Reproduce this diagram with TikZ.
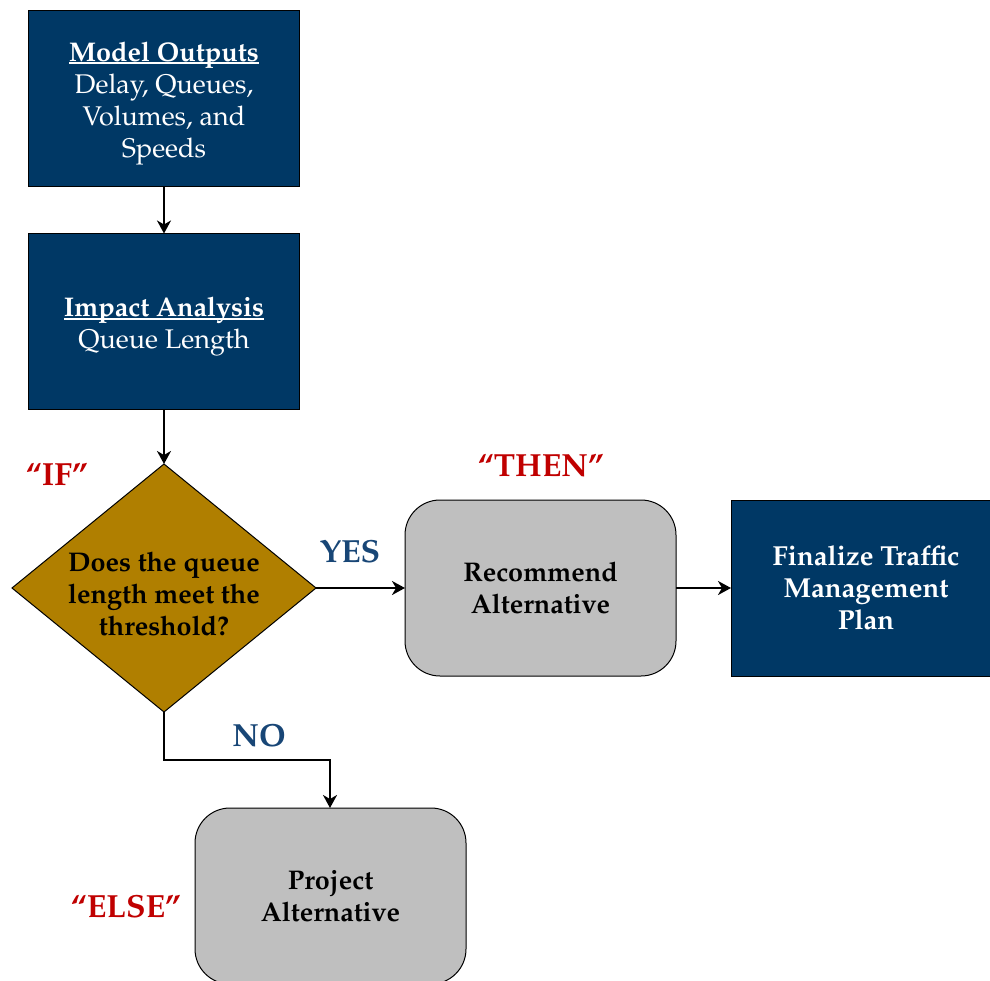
\documentclass[tikz,border=0pt]{standalone}
\usepackage[T1]{fontenc}
\usepackage{mathpazo}
\usetikzlibrary{shapes.geometric,arrows.meta}
\definecolor{navy}{RGB}{0,56,101}
\definecolor{gold}{RGB}{176,127,0}
\definecolor{boxgray}{RGB}{191,191,191}
\definecolor{cuered}{RGB}{192,0,0}
\definecolor{cueblue}{RGB}{24,70,118}
% heading underline drawn just below the baseline
\newcommand\headline[1]{\setbox0\hbox{#1}\rlap{\rule[-2.6pt]{\wd0}{1.7pt}}\box0}
\begin{document}
\begin{tikzpicture}[x=1pt,y=-1pt,
  every node/.style={inner sep=0pt, outer sep=0pt},
  navybox/.style={draw=black, line width=1pt, fill=navy, minimum width=271pt, minimum height=176pt},
  graybox/.style={draw=black, line width=1pt, fill=boxgray, rounded corners=35pt, minimum width=271pt, minimum height=176pt},
  whitetext/.style={text=white, align=center, font=\fontsize{27}{32}\selectfont},
  darktext/.style={text=black, align=center, font=\fontsize{27}{32}\selectfont\bfseries},
  cue/.style={text=cuered, font=\fontsize{32}{36}\selectfont\bfseries},
  answer/.style={text=cueblue, font=\fontsize{32}{36}\selectfont\bfseries},
  flow/.style={line width=2pt, -{Stealth[length=13pt, width=14pt, inset=4pt]}}]
\clip (0,0) rectangle (990,981);

% main boxes
\node[navybox] (model) at (164,99) {};
\node[whitetext] (modeltxt) at (164,103.5) {\headline{\textbf{Model Outputs}}\\Delay, Queues,\\Volumes, and\\Speeds};

\node[navybox] (impact) at (164,321.5) {};
\node[whitetext] (impacttxt) at (164,327) {\headline{\textbf{Impact Analysis}}\\Queue Length};

\node[draw=black, line width=1pt, fill=gold, diamond, minimum width=304pt, minimum height=248pt] (decide) at (164,588) {};
\node[darktext] (decidetxt) at (164,594) {Does the queue\\length meet the\\threshold?};

\node[graybox] (recommend) at (540.5,588) {};
\node[darktext] (recommendtxt) at (540.5,588) {Recommend\\Alternative};

\node[navybox] (final) at (866.5,588) {};
\node[whitetext, font=\fontsize{27.5}{32}\selectfont\bfseries] (finaltxt) at (866,588) {Finalize Traffic\\Management\\Plan};

\node[graybox] (project) at (330.5,896) {};
\node[darktext] (projecttxt) at (330.5,896) {Project\\Alternative};

% connectors
\draw[flow] (model.south) -- (impact.north);
\draw[flow] (impact.south) -- (decide.north);
\draw[flow] (decide.east) -- (recommend.west);
\draw[flow] (recommend.east) -- (731,588);
\coordinate (bend1) at (164,760);
\coordinate (bend2) at (330,760);
\draw[flow] (decide.south) -- (bend1) -- (bend2) -- (project.north -| bend2);

% branch labels
\node[cue] (iflbl) at (57,474) {``IF''};
\node[cue] (thenlbl) at (541,465) {``THEN''};
\node[cue] (elselbl) at (126,906) {``ELSE''};
\node[answer] (yeslbl) at (350,551) {YES};
\node[answer] (nolbl) at (259,735) {NO};
\end{tikzpicture}
\end{document}
